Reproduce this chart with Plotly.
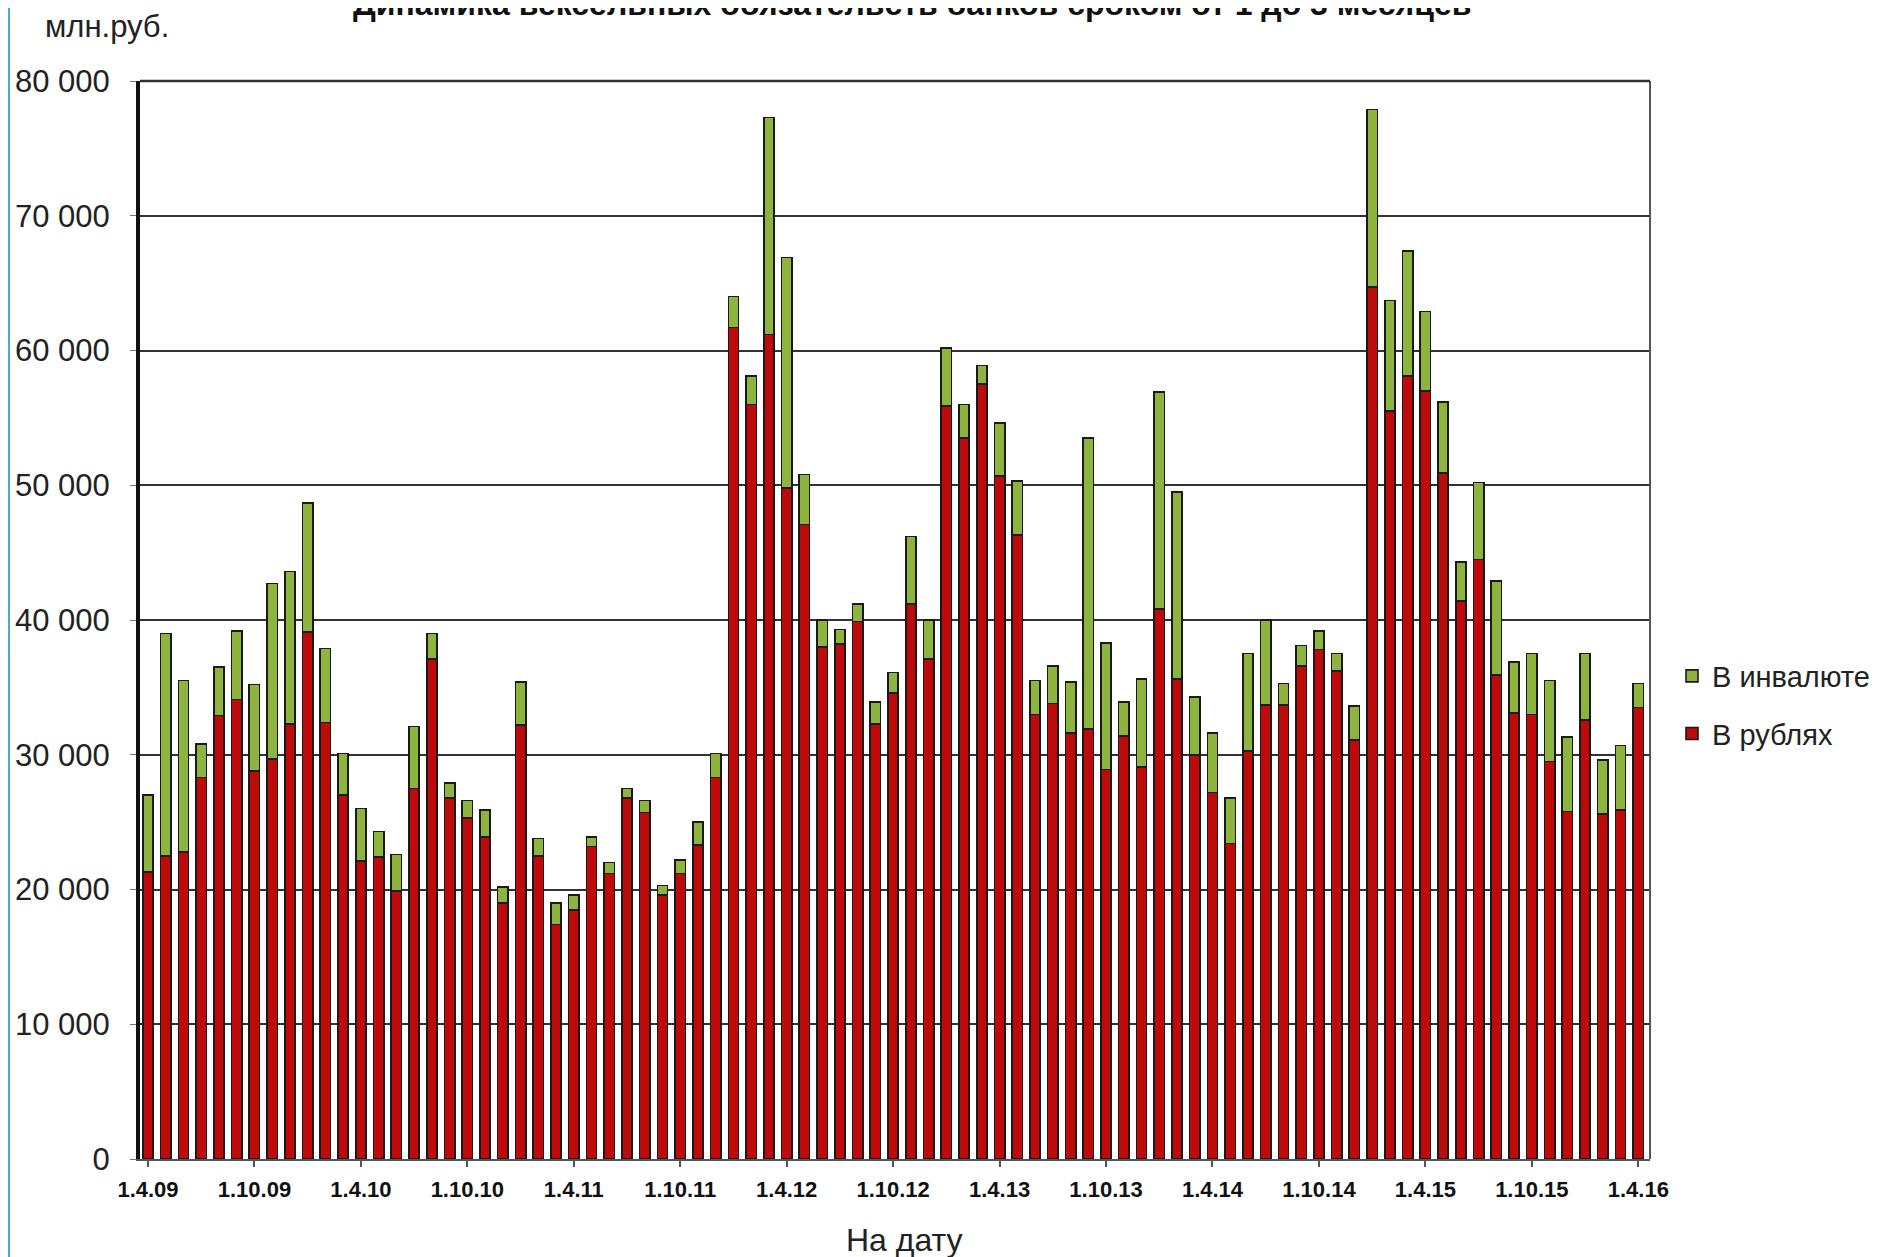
import plotly.graph_objects as go

# ---- data (млн.руб.) ----
dates = []
y, m = 9, 4
while (y, m) <= (16, 4):
    dates.append(f"1.{m}.{y:02d}")
    m += 1
    if m > 12:
        m = 1
        y += 1

totals = [27000, 39000, 35500, 30800, 36500, 39200, 35200, 42700, 43600, 48700,
          37900, 30100, 26000, 24300, 22600, 32100, 39000, 27900, 26600, 25900,
          20200, 35400, 23800, 19000, 19600, 23900, 22000, 27500, 26600, 20300,
          22200, 25000, 30100, 64000, 58100, 77300, 66900, 50800, 40000, 39300,
          41200, 33900, 36100, 46200, 40000, 60200, 56000, 58900, 54600, 50300,
          35500, 36600, 35400, 53500, 38300, 33900, 35600, 56900, 49500, 34300,
          31600, 26800, 37500, 40000, 35300, 38100, 39200, 37500, 33600, 77900,
          63700, 67400, 62900, 56200, 44300, 50200, 42900, 36900, 37500, 35500,
          31300, 37500, 29600, 30700, 35300]

rubles = [21300, 22500, 22800, 28300, 32900, 34100, 28800, 29700, 32300, 39100,
          32400, 27000, 22100, 22400, 19900, 27500, 37100, 26800, 25300, 23900,
          19000, 32200, 22500, 17400, 18500, 23200, 21200, 26800, 25700, 19600,
          21200, 23300, 28300, 61700, 56000, 61200, 49800, 47100, 38000, 38200,
          39900, 32300, 34600, 41200, 37100, 55900, 53500, 57500, 50700, 46300,
          33000, 33800, 31600, 31900, 28900, 31400, 29100, 40800, 35600, 30000,
          27200, 23400, 30300, 33700, 33700, 36600, 37800, 36200, 31100, 64700,
          55500, 58100, 57000, 50900, 41400, 44500, 35900, 33100, 33000, 29500,
          25800, 32600, 25600, 25900, 33500]

foreign = [t - r for t, r in zip(totals, rubles)]

tick_dates = ["1.4.09", "1.10.09", "1.4.10", "1.10.10", "1.4.11", "1.10.11", "1.4.12",
              "1.10.12", "1.4.13", "1.10.13", "1.4.14", "1.10.14", "1.4.15", "1.10.15", "1.4.16"]
y_ticks = [0, 10000, 20000, 30000, 40000, 50000, 60000, 70000, 80000]
y_tick_text = ["0" if v == 0 else f"{v // 1000} 000" for v in y_ticks]

FONT = "Liberation Sans, Arial, sans-serif"

fig = go.Figure()
fig.add_trace(go.Bar(
    x=dates, y=rubles, name="В рублях", legendgroup="r", legendrank=2,
    marker=dict(color="#BE0A0A", line=dict(color="#1a1a1a", width=1.6)),
))
fig.add_trace(go.Bar(
    x=dates, y=foreign, name="В инвалюте", legendgroup="f", legendrank=1,
    marker=dict(color="#8DB43C", line=dict(color="#1a1a1a", width=1.6)),
))

# page body has an 8px margin; compensate so the plot lands where the reference has it
OFF = 8
W, H = 1878 - OFF, 1257 - OFF
ml, mt = 140 - OFF, 81 - OFF
pw, ph = 1510, 1078
mr = W - ml - pw
mb = H - mt - ph

def px_x(ax):  # absolute page x -> paper x
    return (ax - 140) / pw

def px_y(ay):  # absolute page y -> paper y
    return (81 + ph - ay) / ph

fig.update_layout(
    width=W, height=H,
    barmode="stack", bargap=0.42,
    paper_bgcolor="white", plot_bgcolor="white",
    margin=dict(l=ml, r=mr, t=mt, b=mb, pad=0, autoexpand=False),
    font=dict(family=FONT, size=28, color="#222"),
    legend=dict(
        x=px_x(1672), xanchor="left", y=px_y(705), yanchor="middle",
        traceorder="grouped", tracegroupgap=17,
        font=dict(family=FONT, size=29, color="#222"),
        bgcolor="rgba(0,0,0,0)", itemwidth=30,
    ),
    xaxis=dict(
        type="category", automargin=False,
        categoryorder="array", categoryarray=dates,
        range=[-0.45, len(dates) - 1 + 0.66],
        tickmode="array", tickvals=tick_dates, ticktext=tick_dates,
        tickfont=dict(family=FONT, size=22, color="#111", weight="bold"),
        ticks="outside", ticklen=6, tickcolor="#555", tickwidth=1.5,
        ticklabelstandoff=4,
        showline=True, linecolor="#555", linewidth=2,
        showgrid=False, mirror=False,
    ),
    yaxis=dict(
        range=[0, 80000], automargin=False,
        tickmode="array", tickvals=y_ticks, ticktext=y_tick_text,
        tickfont=dict(family=FONT, size=31, color="#222"),
        ticks="outside", ticklen=6, tickcolor="#777",
        ticklabelstandoff=14,
        showline=True, linecolor="#111", linewidth=4,
        showgrid=True, gridcolor="#333", gridwidth=2,
        zeroline=False,
    ),
    annotations=[
        dict(text="<b>Динамика вексельных обязательств банков сроком от 1 до 3 месяцев</b>",
             xref="paper", yref="paper", x=px_x(912), y=px_y(4),
             xanchor="center", yanchor="middle", showarrow=False,
             font=dict(family=FONT, size=32, color="#111")),
        dict(text="млн.руб.", xref="paper", yref="paper",
             x=px_x(107), y=px_y(27),
             xanchor="center", yanchor="middle", showarrow=False,
             font=dict(family=FONT, size=31, color="#222")),
        dict(text="На дату", xref="paper", yref="paper",
             x=px_x(904), y=px_y(1240),
             xanchor="center", yanchor="middle", showarrow=False,
             font=dict(family=FONT, size=32, color="#222")),
    ],
    shapes=[
        dict(type="line", xref="paper", yref="paper",
             x0=1, x1=1, y0=0, y1=1, line=dict(color="#555", width=2)),
        dict(type="line", xref="paper", yref="paper",
             x0=0, x1=1, y0=1, y1=1, line=dict(color="#333", width=2.5)),
        dict(type="line", xref="paper", yref="paper",
             x0=px_x(OFF + 1), x1=px_x(OFF + 1), y0=px_y(1257), y1=px_y(OFF),
             line=dict(color="#4BACC6", width=2)),
    ],
)

fig.write_html("out.html")
